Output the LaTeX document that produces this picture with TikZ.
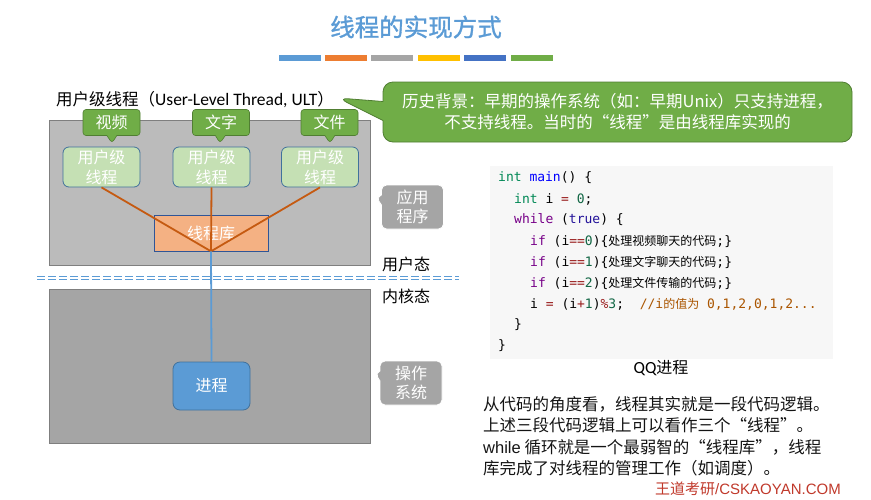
\documentclass[tikz,border=0pt]{standalone}
\usepackage{fontspec}
\setmainfont{Noto Sans CJK SC}
\newfontfamily\zh{Noto Sans CJK SC}
\newfontfamily\zhb[FakeBold=1.2]{Noto Sans CJK SC}
\newfontfamily\lat{Carlito}
\newfontfamily\ars{Liberation Sans}
\setmonofont{DejaVu Sans Mono}
\usetikzlibrary{shapes.callouts}
\definecolor{titleblue}{HTML}{5B9BD5}
\definecolor{barA}{HTML}{5B9BD5}
\definecolor{barB}{HTML}{ED7D31}
\definecolor{barC}{HTML}{A5A5A5}
\definecolor{barD}{HTML}{FFC000}
\definecolor{barE}{HTML}{4472C4}
\definecolor{barF}{HTML}{70AD47}
\definecolor{upfill}{HTML}{BBBBBB}
\definecolor{lowfill}{HTML}{A5A5A5}
\definecolor{boxline}{HTML}{7F7F7F}
\definecolor{gfill}{HTML}{70AD47}
\definecolor{gline}{HTML}{507E32}
\definecolor{ultfill}{HTML}{C5E0B4}
\definecolor{ultline}{HTML}{41719C}
\definecolor{libfill}{HTML}{F4B183}
\definecolor{libline}{HTML}{2F5597}
\definecolor{orln}{HTML}{C55A11}
\definecolor{blln}{HTML}{5B9BD5}
\definecolor{procfill}{HTML}{5B9BD5}
\definecolor{greycall}{HTML}{A5A5A5}
\definecolor{codebgc}{HTML}{F7F7F7}
\definecolor{cmkw}{HTML}{770088}
\definecolor{cmatom}{HTML}{221199}
\definecolor{cmnum}{HTML}{116644}
\definecolor{cmdef}{HTML}{0000FF}
\definecolor{cmtype}{HTML}{008855}
\definecolor{cmop}{HTML}{981A1A}
\definecolor{cmcom}{HTML}{AA5500}
\definecolor{bodytext}{HTML}{141414}
\definecolor{footred}{HTML}{C0392B}
\newcommand\ckw[1]{\textcolor{cmkw}{#1}}
\newcommand\catom[1]{\textcolor{cmatom}{#1}}
\newcommand\cnum[1]{\textcolor{cmnum}{#1}}
\newcommand\cdef[1]{\textcolor{cmdef}{#1}}
\newcommand\cty[1]{\textcolor{cmtype}{#1}}
\newcommand\cop[1]{\textcolor{cmop}{#1}}
\newcommand\ccom[1]{\textcolor{cmcom}{#1}}
\newcommand\czh[1]{{\zh\fontsize{12}{15}\selectfont #1}}
\tikzset{
  bar/.style={fill=#1, minimum width=42, minimum height=6, inner sep=0, anchor=north west},
  bigbox/.style={draw=boxline, line width=0.8, fill=#1, anchor=north west, inner sep=0},
  gcall/.style={rectangle callout, fill=gfill, draw=gline, line width=0.6, text=white,
    font=\fontsize{16}{19}\selectfont, minimum width=57, minimum height=26, inner sep=0,
    rounded corners=3, callout pointer width=10},
  ult/.style={draw=ultline, line width=0.8, fill=ultfill, rounded corners=6, text=white,
    minimum width=77, minimum height=40, inner sep=0, align=center,
    font=\fontsize{16}{20}\selectfont},
  greyc/.style={rectangle callout, fill=greycall, draw=white, line width=0.8, text=white,
    rounded corners=5, minimum width=62, minimum height=44, inner sep=0, align=center,
    font=\fontsize{16}{19}\selectfont, callout pointer width=10},
  codeln/.style={anchor=west, inner sep=0, font=\ttfamily\fontsize{13}{15}\selectfont},
  bodyln/.style={anchor=west, inner sep=0, text=bodytext, font=\fontsize{16.5}{20}\selectfont},
  orline/.style={draw=orln, line width=1.8},
  blline/.style={draw=blln, line width=1.8},
}
\begin{document}
\begin{tikzpicture}[x=1pt,y=-1pt]
\useasboundingbox (0,0) rectangle (871,499);
% title
\node[text=titleblue, font=\zhb\fontsize{24.5}{28}\selectfont, inner sep=0] (title) at (416,27) {线程的实现方式};
\node[bar=barA] (b1) at (279,55) {};
\node[bar=barB] (b2) at (325,55) {};
\node[bar=barC] (b3) at (371,55) {};
\node[bar=barD] (b4) at (418,55) {};
\node[bar=barE] (b5) at (464,55) {};
\node[bar=barF] (b6) at (511,55) {};
% ULT label
\node[anchor=west, inner sep=0, font=\fontsize{16.5}{20}\selectfont] (ultlabel) at (56,100)
  {用户级线程（{\lat\fontsize{17.5}{20}\selectfont User-Level Thread, ULT}）};
% boxes
\node[bigbox=upfill, minimum width=321, minimum height=145] (upper) at (49,120) {};
\node[bigbox=lowfill, minimum width=321, minimum height=154] (lower) at (49,289) {};
% dashed separator
\coordinate (dl) at (37,278);
\coordinate (dr) at (459,278);
\draw[draw=blln, double=white, double distance=1.3, line width=1.0, dash pattern=on 8 off 3] (dl) -- (dr);
\node[anchor=west, inner sep=0, font=\fontsize{16}{19}\selectfont] (ustate) at (382,264) {用户态};
\node[anchor=west, inner sep=0, font=\fontsize{16}{19}\selectfont] (kstate) at (382,296) {内核态};
% library
\node[draw=libline, line width=0.6, fill=libfill, minimum width=114, minimum height=36, inner sep=0,
  text=white, font=\fontsize{16}{19}\selectfont] (lib) at (211,233) {线程库};
% ULT nodes
\node[ult] (u1) at (101.5,167) {用户级\\线程};
\node[ult] (u2) at (211.5,167) {用户级\\线程};
\node[ult] (u3) at (320,167) {用户级\\线程};
% process
\node[draw=ultline, line width=0.8, fill=procfill, rounded corners=7, minimum width=77, minimum height=48,
  inner sep=0, text=white, font=\fontsize{16}{19}\selectfont] (proc) at (211.5,386) {进程};
% connectors
\draw[orline] (u1.south) -- (lib.south);
\draw[orline] (u2.south) -- (lib.south);
\draw[orline] (u3.south) -- (lib.south);
\draw[blline] (lib.south) -- (proc.north);
% green small callouts
\node[gcall, callout absolute pointer={(112,143)}] (cv) at (111.5,122.5) {视频};
\node[gcall, callout absolute pointer={(220,143)}] (ct) at (221,122.5) {文字};
\node[gcall, callout absolute pointer={(330,143)}] (cf) at (329.5,122.5) {文件};
% grey callouts
\node[greyc, callout absolute pointer={(376,197)}] (app) at (412.5,207) {应用\\程序};
\node[greyc, callout absolute pointer={(375,373)}] (os) at (411,383) {操作\\系统};
% big green callout
\node[rectangle callout, fill=gfill, draw=gline, line width=0.8, rounded corners=10,
  minimum width=469, minimum height=60, inner sep=0, text=white, align=center,
  font=\fontsize{16.5}{21}\selectfont, callout absolute pointer={(338,98)}, callout pointer width=19]
  (hist) at (617.5,112) {历史背景：早期的操作系统（如：早期Unix）只支持进程，\\不支持线程。当时的“线程”是由线程库实现的};
% code box
\node[fill=codebgc, minimum width=343, minimum height=193, inner sep=0, anchor=north west] (codebg) at (490,166) {};
\node[codeln] (c1) at (498,178) {\cty{int} \cdef{main}() \{};
\node[codeln] (c2) at (514,199) {\cty{int} i \cop{=} \cnum{0};};
\node[codeln] (c3) at (514,220) {\ckw{while} (\catom{true}) \{};
\node[codeln] (c4) at (530,241) {\ckw{if} (i\cop{==}\cnum{0})\{\czh{处理视频聊天的代码};\}};
\node[codeln] (c5) at (530,262) {\ckw{if} (i\cop{==}\cnum{1})\{\czh{处理文字聊天的代码};\}};
\node[codeln] (c6) at (530,283) {\ckw{if} (i\cop{==}\cnum{2})\{\czh{处理文件传输的代码};\}};
\node[codeln] (c7) at (530,304) {i \cop{=} (i\cop{+}\cnum{1})\cop{\%}\cnum{3};\ \ \ccom{//i\czh{的值为} 0,1,2,0,1,2...}};
\node[codeln] (c8) at (514,325) {\}};
\node[codeln] (c9) at (498,346) {\}};
\node[inner sep=0, font=\fontsize{16}{19}\selectfont] (qq) at (661,368) {{\lat\fontsize{17}{19}\selectfont QQ}进程};
% body text
\node[bodyln] (t1) at (483,404) {从代码的角度看，线程其实就是一段代码逻辑。};
\node[bodyln] (t2) at (483,425.5) {上述三段代码逻辑上可以看作三个“线程”。};
\node[bodyln] (t3) at (483,447) {{\ars while} 循环就是一个最弱智的“线程库”，线程};
\node[bodyln] (t4) at (483,468) {库完成了对线程的管理工作（如调度）。};
\node[anchor=west, inner sep=0, text=footred, font=\fontsize{15}{18}\selectfont] (foot) at (655,489)
  {王道考研{\ars /CSKAOYAN.COM}};
\end{tikzpicture}
\end{document}
